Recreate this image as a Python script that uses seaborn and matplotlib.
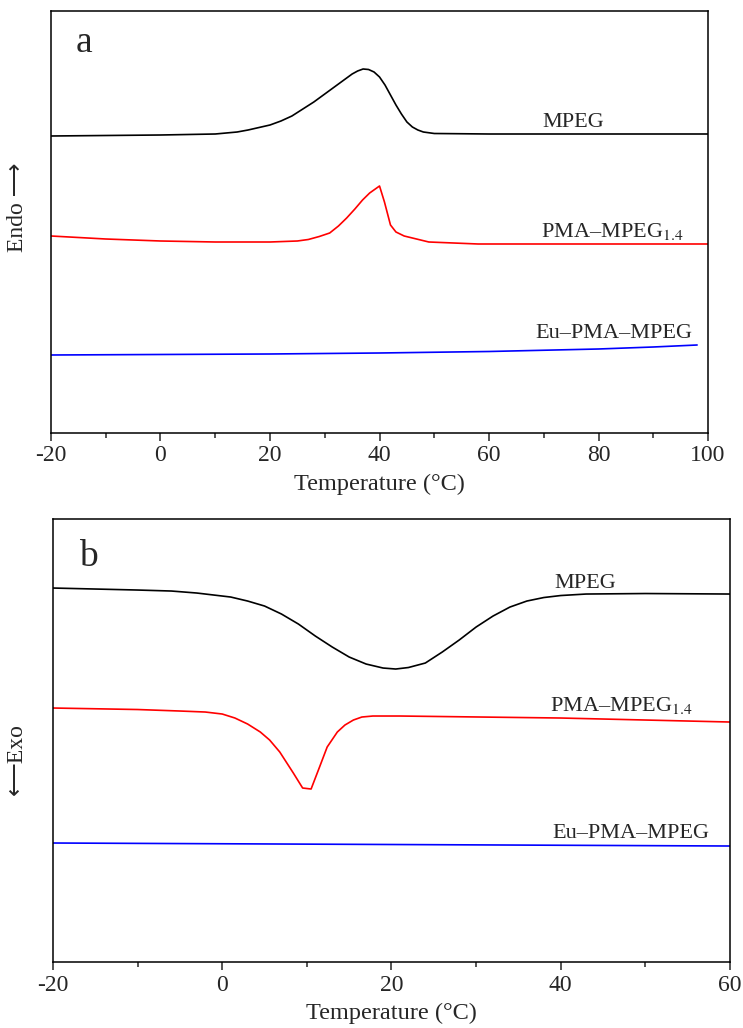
import numpy as np
import pandas as pd
import matplotlib
matplotlib.use("Agg")
import matplotlib.pyplot as plt
import seaborn as sns
from matplotlib.ticker import MultipleLocator

# Panel a: heating scans (arbitrary heat-flow units, offset curves)
temp_a_mpeg = [-20, 0, 10, 12, 14, 16, 18, 20, 22, 24, 26, 28, 30, 32, 34, 35, 36, 37, 38,
               39, 40, 41, 42, 43, 44, 45, 46, 47, 48, 50, 60, 100]
flow_a_mpeg = [2.97, 2.98, 2.99, 3.00, 3.01, 3.03, 3.055, 3.08, 3.12, 3.17, 3.24, 3.31, 3.39,
               3.47, 3.55, 3.59, 3.62, 3.64, 3.635, 3.61, 3.56, 3.48, 3.38, 3.28, 3.19, 3.11,
               3.06, 3.03, 3.01, 2.995, 2.99, 2.99]
temp_a_pma = [-20, -10, 0, 10, 20, 25, 27, 29, 30.9, 32.5, 34, 35.5, 36.9, 38.2, 40, 40.9, 42,
              43, 44.5, 46, 49, 58, 100]
flow_a_pma = [1.97, 1.94, 1.92, 1.91, 1.91, 1.92, 1.935, 1.965, 2.00, 2.07, 2.15, 2.24, 2.33,
              2.40, 2.47, 2.31, 2.08, 2.01, 1.97, 1.95, 1.91, 1.89, 1.89]
temp_a_eu = [-20, 0, 20, 40, 60, 80, 90, 98]
flow_a_eu = [0.78, 0.785, 0.79, 0.80, 0.815, 0.84, 0.86, 0.88]

# Panel b: cooling scans
temp_b_mpeg = [-20, -15, -10, -6, -3, -1, 1, 3, 5, 7, 9, 11, 13, 15, 17, 19, 20.5, 22, 24, 26,
               28, 30, 32, 34, 36, 38, 40, 43, 50, 60]
flow_b_mpeg = [3.74, 3.73, 3.72, 3.71, 3.69, 3.67, 3.65, 3.61, 3.56, 3.48, 3.38, 3.26, 3.15,
               3.05, 2.98, 2.94, 2.93, 2.945, 2.99, 3.10, 3.22, 3.35, 3.46, 3.55, 3.61, 3.645,
               3.665, 3.68, 3.685, 3.68]
temp_b_pma = [-20, -10, -5, -2, 0, 1.5, 3, 4.5, 5.6, 6.8, 8.4, 9.5, 10.5, 11.5, 12.4, 13.6,
              14.5, 15.5, 16.5, 17.8, 21, 40, 60]
flow_b_pma = [2.54, 2.525, 2.51, 2.50, 2.48, 2.44, 2.38, 2.30, 2.22, 2.10, 1.89, 1.74, 1.73,
              1.95, 2.15, 2.30, 2.37, 2.42, 2.45, 2.46, 2.46, 2.44, 2.40]
temp_b_eu = [-20, 20, 60]
flow_b_eu = [1.19, 1.175, 1.16]

names = ["MPEG", "PMA–MPEG$_{1.4}$", "Eu–PMA–MPEG"]
colors = ["black", "red", "blue"]

sns.set_style("white")
plt.rcParams["font.family"] = ["Liberation Serif", "DejaVu Sans"]
plt.rcParams["mathtext.fontset"] = "stix"
plt.rcParams["axes.unicode_minus"] = False

fig = plt.figure(figsize=(7.43, 10.28), dpi=100)
ax_a = fig.add_axes([0.0686, 0.5788, 0.8844, 0.4105])
ax_b = fig.add_axes([0.0713, 0.0642, 0.9112, 0.4309])

curves_a = [(temp_a_mpeg, flow_a_mpeg), (temp_a_pma, flow_a_pma), (temp_a_eu, flow_a_eu)]
curves_b = [(temp_b_mpeg, flow_b_mpeg), (temp_b_pma, flow_b_pma), (temp_b_eu, flow_b_eu)]

for (t, f), c in zip(curves_a, colors):
    sns.lineplot(x=t, y=f, color=c, lw=1.2, ax=ax_a, sort=False)
for (t, f), c in zip(curves_b, colors):
    sns.lineplot(x=t, y=f, color=c, lw=1.2, ax=ax_b, sort=False)

# curve labels
ax_a.text(75.4, 3.06, names[0], ha="center", va="baseline", fontsize=16)
ax_a.text(69.5, 1.96, names[1], ha="left", va="baseline", fontsize=16)
ax_a.text(68.5, 0.95, names[2], ha="left", va="baseline", fontsize=16)
ax_b.text(39.3, 3.74, names[0], ha="left", va="baseline", fontsize=16)
ax_b.text(38.7, 2.51, names[1], ha="left", va="baseline", fontsize=16)
ax_b.text(39.0, 1.24, names[2], ha="left", va="baseline", fontsize=16)

ax_a.text(0.037, 0.903, "a", transform=ax_a.transAxes, fontsize=27, va="baseline")
ax_b.text(0.038, 0.894, "b", transform=ax_b.transAxes, fontsize=27, va="baseline")

for ax, xlim, ylim in [(ax_a, (-20, 100), (0, 4.22)), (ax_b, (-20, 60), (0, 4.43))]:
    ax.set_xlim(*xlim)
    ax.set_ylim(*ylim)
    ax.set_yticks([])
    ax.xaxis.set_major_locator(MultipleLocator(20))
    ax.xaxis.set_minor_locator(MultipleLocator(10))
    ax.tick_params(axis="x", which="major", direction="out", length=6, width=1.1,
                   labelsize=17, pad=3, bottom=True, top=False)
    ax.tick_params(axis="x", which="minor", direction="out", length=3.5, width=1.1,
                   bottom=True, top=False)
    for s in ax.spines.values():
        s.set_visible(True)
        s.set_color("black")
        s.set_linewidth(1.1)
    ax.set_xlabel("Temperature (°C)", fontsize=17.5, labelpad=5)

ax_a.set_ylabel("Endo ⟶", fontsize=17)
ax_a.yaxis.set_label_coords(-0.035, 0.535)
ax_b.set_ylabel("⟵Exo", fontsize=17)
ax_b.yaxis.set_label_coords(-0.038, 0.458)

fig.savefig("out.png", dpi=100, facecolor="white")
